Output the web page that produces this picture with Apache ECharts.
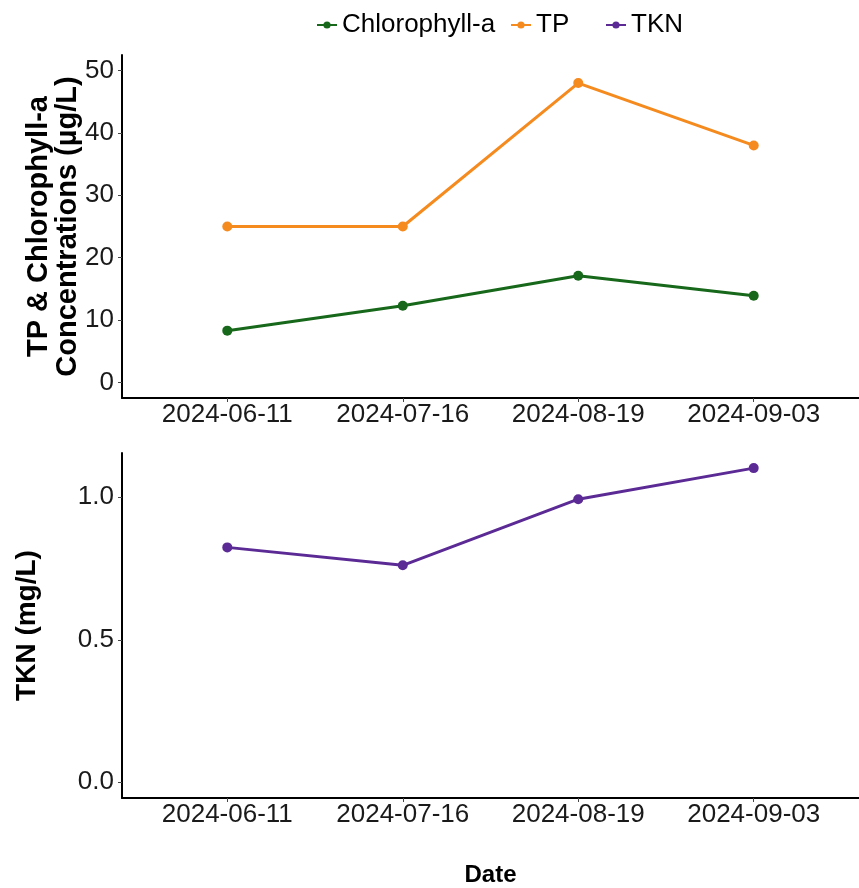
<!DOCTYPE html>
<html>
<head>
<meta charset="utf-8">
<script src="https://cdn.jsdelivr.net/npm/echarts@6/dist/echarts.min.js"></script>
<style>
  html, body { margin: 0; padding: 0; background: #fff; }
  #chart { width: 859px; height: 888px; }
</style>
</head>
<body>
<div id="chart"></div>
<script>
// data
var dates = ['2024-06-11', '2024-07-16', '2024-08-19', '2024-09-03'];
var chla = [8.3, 12.3, 17.1, 13.9];
var tp = [25, 25, 48, 38];
var tkn = [0.824, 0.761, 0.993, 1.102];
var topTicks = [0, 10, 20, 30, 40, 50];
var bottomTicks = [0, 0.5, 1.0];
var xTicks = [0, 1, 2, 3];

var cGreen = '#17681a';
var cOrange = '#f58a1f';
var cPurple = '#5b2a95';
var font = 'Liberation Sans, Arial, sans-serif';

// pair each value with its category index
function pts(arr) {
  return arr.map(function (v, i) { return [i, v]; });
}

function xAxisCfg(gridIndex, withName) {
  var ax = {
    type: 'value',
    gridIndex: gridIndex,
    min: -0.6,
    max: 3.6,
    splitLine: { show: false },
    axisLine: { onZero: false, lineStyle: { color: '#000', width: 2 } },
    axisTick: { customValues: xTicks, length: 4, lineStyle: { color: '#444' } },
    axisLabel: {
      customValues: xTicks,
      margin: 4,
      color: '#1a1a1a',
      fontSize: 26,
      fontFamily: font,
      formatter: function (v) { return dates[Math.round(v)]; }
    }
  };
  if (withName) {
    ax.name = 'Date';
    ax.nameLocation = 'middle';
    ax.nameGap = 65;
    ax.nameMoveOverlap = false;
    ax.nameTextStyle = { fontSize: 24, fontWeight: 'bold', color: '#000', fontFamily: font };
  }
  return ax;
}

function yAxisCfg(gridIndex, min, max, ticks, name, gap, size, fmt) {
  return {
    type: 'value',
    gridIndex: gridIndex,
    min: min,
    max: max,
    splitLine: { show: false },
    axisLine: { show: true, onZero: false, lineStyle: { color: '#000', width: 2 } },
    axisTick: { show: true, customValues: ticks, length: 4, lineStyle: { color: '#444' } },
    axisLabel: {
      customValues: ticks,
      margin: 8,
      color: '#1a1a1a',
      fontSize: 26,
      fontFamily: font,
      formatter: fmt
    },
    name: name,
    nameLocation: 'middle',
    nameGap: gap,
    nameMoveOverlap: false,
    nameTextStyle: { fontSize: size, fontWeight: 'bold', color: '#000', fontFamily: font, lineHeight: 29 }
  };
}

function legendCfg(name, left) {
  return {
    data: [name],
    left: left,
    top: 7,
    itemWidth: 20,
    itemHeight: 9,
    itemGap: 0,
    textStyle: { fontSize: 26, color: '#000', fontFamily: font }
  };
}

var chart = echarts.init(document.getElementById('chart'));
chart.setOption({
  animation: false,
  legend: [
    legendCfg('Chlorophyll-a', 311),
    legendCfg('TP', 505),
    legendCfg('TKN', 600)
  ],
  grid: [
    { left: 122, top: 55, width: 743, height: 343 },
    { left: 122, top: 453, width: 743, height: 345 }
  ],
  xAxis: [xAxisCfg(0, false), xAxisCfg(1, true)],
  yAxis: [
    yAxisCfg(0, -2.5, 52.5, topTicks, 'TP & Chlorophyll-a\nConcentrations (µg/L)', 40, 29,
      function (v) { return String(v); }),
    yAxisCfg(1, -0.055, 1.155, bottomTicks, 'TKN (mg/L)', 80, 28,
      function (v) { return v.toFixed(1); })
  ],
  series: [
    {
      name: 'Chlorophyll-a', type: 'line', xAxisIndex: 0, yAxisIndex: 0,
      data: pts(chla), symbol: 'circle', symbolSize: 10,
      itemStyle: { color: cGreen }, lineStyle: { color: cGreen, width: 3 }
    },
    {
      name: 'TP', type: 'line', xAxisIndex: 0, yAxisIndex: 0,
      data: pts(tp), symbol: 'circle', symbolSize: 10,
      itemStyle: { color: cOrange }, lineStyle: { color: cOrange, width: 3 }
    },
    {
      name: 'TKN', type: 'line', xAxisIndex: 1, yAxisIndex: 1,
      data: pts(tkn), symbol: 'circle', symbolSize: 10,
      itemStyle: { color: cPurple }, lineStyle: { color: cPurple, width: 3 }
    }
  ]
});
</script>
</body>
</html>
